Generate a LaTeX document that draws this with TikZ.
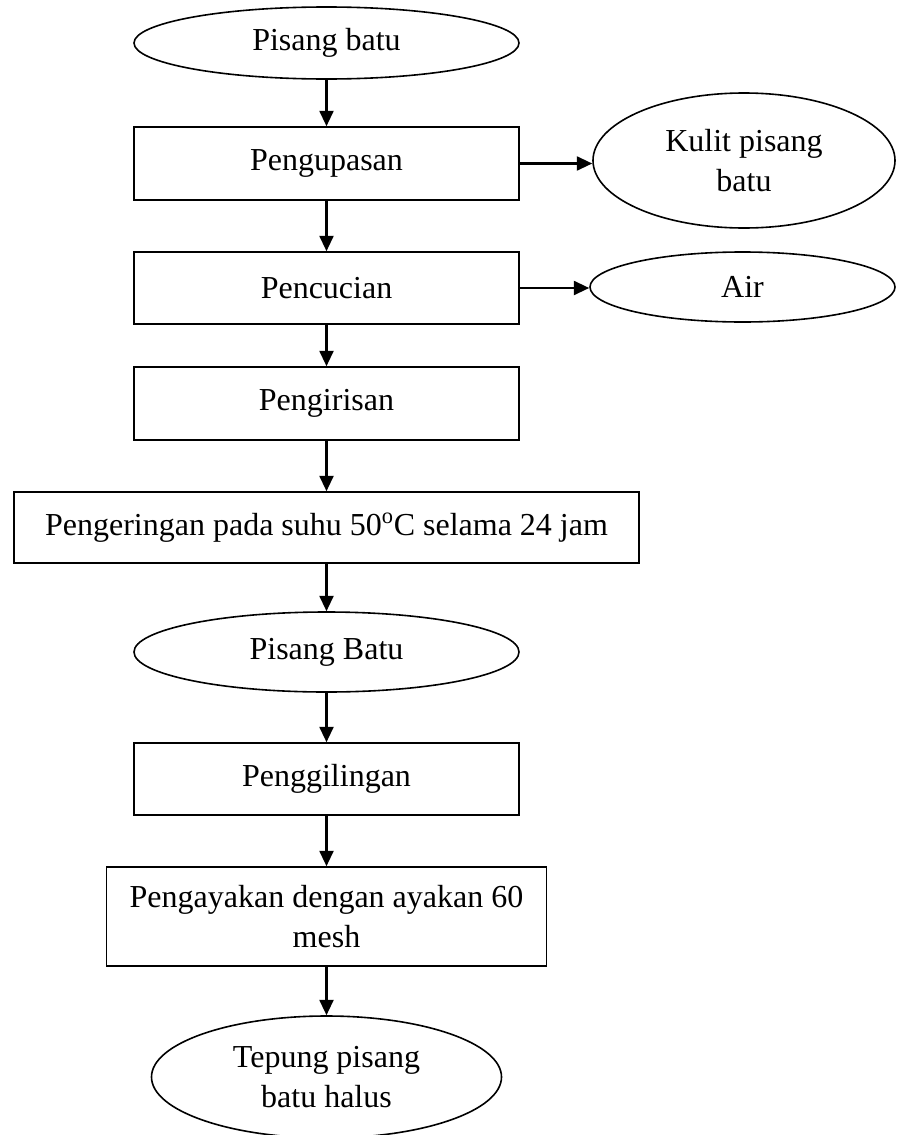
\documentclass[tikz,border=0pt]{standalone}
\usepackage{fontspec}
\setmainfont{Liberation Serif}
\usetikzlibrary{arrows.meta,shapes.geometric}
\tikzset{
	proses/.style={draw, line width=1.2pt, rectangle, inner sep=0pt, align=center},
	bahan/.style={draw, line width=1.2pt, ellipse, inner sep=0pt, align=center},
	panah/.style={line width=1.6pt, -{Triangle[length=11.5pt, width=10.5pt]}}
}

\begin{document}
\begin{tikzpicture}[x=0.75pt, y=-0.75pt, font=\fontsize{24}{30}\selectfont]
		%%%%% START %%%%%
		\useasboundingbox (0, 0) rectangle (897, 1135);
		
		\node[bahan, minimum width=288.75pt, minimum height=54pt] (pisang) at (326.5, 43) {Pisang batu};
		\node[proses, minimum width=288.75pt, minimum height=54.75pt] (kupas) at (326.5, 163.5) {Pengupasan};
		\node[bahan, minimum width=226.5pt, minimum height=101.25pt] (kulit) at (744, 160.5) {Kulit pisang\\batu};
		\node[proses, minimum width=288.75pt, minimum height=54pt] (cuci) at (326.5, 288) {Pencucian};
		\node[bahan, minimum width=228.75pt, minimum height=52.5pt] (air) at (742.5, 287) {Air};
		\node[proses, minimum width=288.75pt, minimum height=54.75pt] (iris) at (326.5, 403.5) {Pengirisan};
		\node[proses, minimum width=468.75pt, minimum height=53.25pt] (kering) at (326.5, 527.5) {Pengeringan pada suhu 50\textsuperscript{o}C selama 24 jam};
		\node[bahan, minimum width=288.75pt, minimum height=60pt] (pisangkering) at (326.5, 652) {Pisang Batu};
		\node[proses, minimum width=288.75pt, minimum height=54pt] (giling) at (326.5, 779) {Penggilingan};
		\node[proses, minimum width=330pt, minimum height=74.25pt] (ayak) at (326.5, 916.5) {Pengayakan dengan ayakan 60\\mesh};
		\node[bahan, minimum width=262.5pt, minimum height=91.5pt, text depth=0pt] (tepung) at (326.5, 1077) {Tepung pisang\\batu halus};
		
		\draw[panah] (pisang) -- (kupas);
		\draw[panah] (kupas) -- (cuci);
		\draw[panah] (cuci) -- (iris);
		\draw[panah] (iris) -- (kering);
		\draw[panah] (kering) -- (pisangkering);
		\draw[panah] (pisangkering) -- (giling);
		\draw[panah] (giling) -- (ayak);
		\draw[panah] (ayak) -- (tepung);
		
		\draw[panah] (kupas.east) -- (kupas.east -| kulit.west);
		\draw[panah] (cuci.east) -- (cuci.east -| air.west);
		%%%%% END %%%%%
\end{tikzpicture}
\end{document}
